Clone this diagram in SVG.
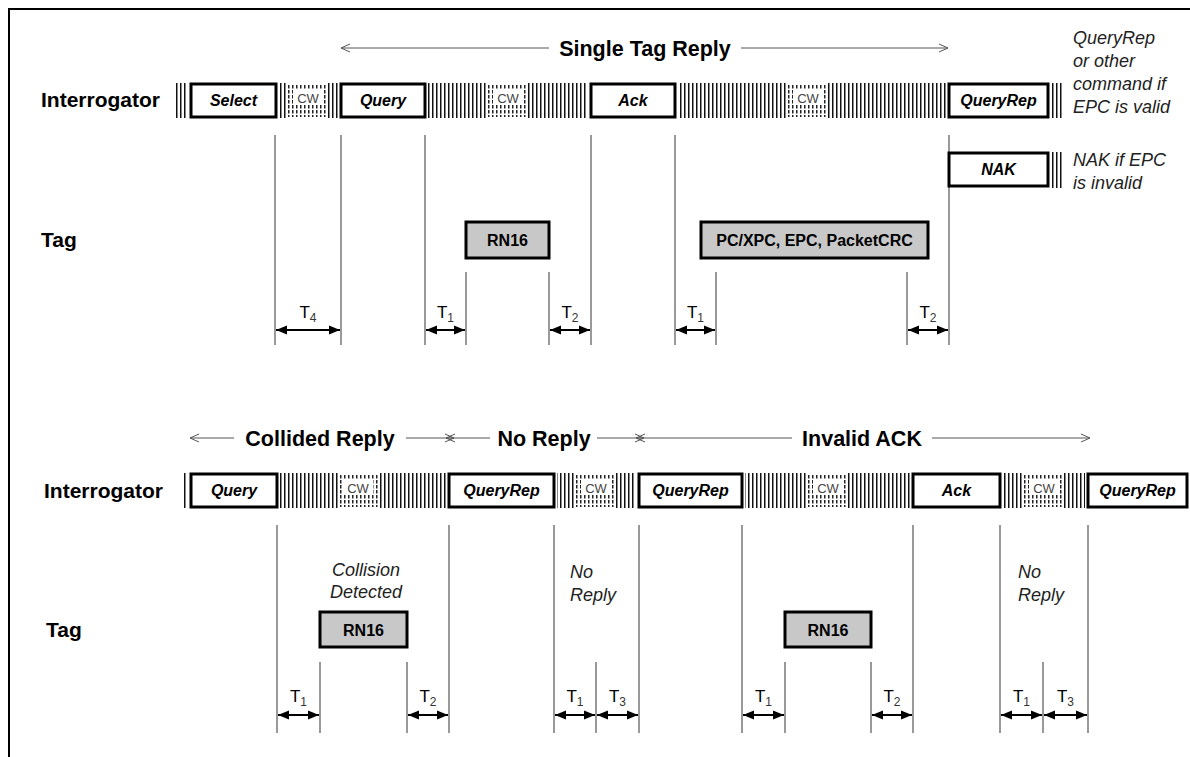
<svg xmlns="http://www.w3.org/2000/svg" width="1190" height="757" viewBox="0 0 1190 757">
<defs>
<style>
.lbl{font-family:"Liberation Sans",Arial,sans-serif;font-weight:bold;font-size:21px;fill:#000}
.hd{font-family:"Liberation Sans",Arial,sans-serif;font-weight:bold;font-size:21.5px;fill:#000;text-anchor:middle}
.cmd{fill:#fff;stroke:#000;stroke-width:3}
.cmdt{font-family:"Liberation Sans",Arial,sans-serif;font-weight:bold;font-style:italic;font-size:16px;fill:#000;text-anchor:middle}
.tag{fill:#c8c8c8;stroke:#000;stroke-width:3}
.tagt{font-family:"Liberation Sans",Arial,sans-serif;font-weight:bold;font-size:16px;fill:#000;text-anchor:middle}
.note{font-family:"Liberation Sans",Arial,sans-serif;font-style:italic;font-size:18px;fill:#222}
.cwt{font-family:"Liberation Sans",Arial,sans-serif;font-size:13px;fill:#444;text-anchor:middle}
.tt{font-family:"Liberation Sans",Arial,sans-serif;font-size:17px;fill:#000;text-anchor:middle}
.sub{font-size:12px;fill:#333}
.vl{stroke:#999;stroke-width:2;fill:none}
.ta{stroke:#000;stroke-width:2;fill:none;marker-start:url(#ah);marker-end:url(#ah)}
.ha{stroke:#555;stroke-width:1;fill:none}
.st{fill:url(#st)}
.cwz{fill:url(#cwp)}
.wh{fill:#fff}
</style>
<pattern id="st" patternUnits="userSpaceOnUse" width="4" height="20"><rect x="0" y="0" width="1.5" height="20" fill="#111"/></pattern>
<pattern id="cwp" patternUnits="userSpaceOnUse" width="4" height="5"><rect x="0" y="0" width="1.5" height="3.5" fill="#222"/></pattern>
<marker id="ah" markerUnits="userSpaceOnUse" markerWidth="11" markerHeight="10" refX="11" refY="5" orient="auto-start-reverse"><path d="M0,0.5 L11,5 L0,9.5 z" fill="#000"/></marker>
<marker id="ch" markerUnits="userSpaceOnUse" markerWidth="11" markerHeight="10" refX="10" refY="5" orient="auto-start-reverse"><path d="M1,1 L10,5 L1,9" fill="none" stroke="#555" stroke-width="1"/></marker>
</defs>
<rect width="1190" height="757" fill="#fff"/>
<path d="M9,757 V9 H1190" fill="none" stroke="#000" stroke-width="2"/>

<!-- stripe bands -->
<g id="bands">
<rect class="st" x="174" y="83" width="889" height="35"/>
<rect class="st" x="1052" y="152" width="11" height="36"/>
<rect class="st" x="183" y="473" width="905" height="35"/>
</g>

<!-- CW zones -->
<g id="cw-zones">
<g id="cw1"><rect class="wh" x="288" y="83" width="40" height="35"/><rect class="cwz" x="288" y="85" width="40" height="32"/><rect class="wh" x="293" y="90" width="30" height="15"/><text class="cwt" x="308" y="103">CW</text></g>
<g id="cw2"><rect class="wh" x="488" y="83" width="40" height="35"/><rect class="cwz" x="488" y="85" width="40" height="32"/><rect class="wh" x="493" y="90" width="30" height="15"/><text class="cwt" x="508" y="103">CW</text></g>
<g id="cw3"><rect class="wh" x="788" y="83" width="40" height="35"/><rect class="cwz" x="788" y="85" width="40" height="32"/><rect class="wh" x="793" y="90" width="30" height="15"/><text class="cwt" x="808" y="103">CW</text></g>
<g id="cw4"><rect class="wh" x="338" y="473" width="40" height="35"/><rect class="cwz" x="338" y="475" width="40" height="32"/><rect class="wh" x="343" y="480" width="30" height="15"/><text class="cwt" x="358" y="493">CW</text></g>
<g id="cw5"><rect class="wh" x="576" y="473" width="40" height="35"/><rect class="cwz" x="576" y="475" width="40" height="32"/><rect class="wh" x="581" y="480" width="30" height="15"/><text class="cwt" x="596" y="493">CW</text></g>
<g id="cw6"><rect class="wh" x="808" y="473" width="40" height="35"/><rect class="cwz" x="808" y="475" width="40" height="32"/><rect class="wh" x="813" y="480" width="30" height="15"/><text class="cwt" x="828" y="493">CW</text></g>
<g id="cw7"><rect class="wh" x="1024" y="473" width="40" height="35"/><rect class="cwz" x="1024" y="475" width="40" height="32"/><rect class="wh" x="1029" y="480" width="30" height="15"/><text class="cwt" x="1044" y="493">CW</text></g>
</g>

<!-- connectors -->
<g id="connectors">
<line class="vl" x1="275" y1="135" x2="275" y2="345"/>
<line class="vl" x1="341" y1="135" x2="341" y2="345"/>
<line class="vl" x1="425" y1="135" x2="425" y2="345"/>
<line class="vl" x1="591" y1="135" x2="591" y2="345"/>
<line class="vl" x1="675" y1="135" x2="675" y2="345"/>
<line class="vl" x1="949" y1="135" x2="949" y2="345"/>
<line class="vl" x1="466" y1="272" x2="466" y2="345"/>
<line class="vl" x1="549" y1="272" x2="549" y2="345"/>
<line class="vl" x1="716" y1="272" x2="716" y2="345"/>
<line class="vl" x1="907" y1="272" x2="907" y2="345"/>
<line class="vl" x1="277" y1="525" x2="277" y2="733"/>
<line class="vl" x1="449" y1="525" x2="449" y2="733"/>
<line class="vl" x1="554" y1="525" x2="554" y2="733"/>
<line class="vl" x1="639" y1="525" x2="639" y2="733"/>
<line class="vl" x1="742" y1="525" x2="742" y2="733"/>
<line class="vl" x1="913" y1="525" x2="913" y2="733"/>
<line class="vl" x1="1000" y1="525" x2="1000" y2="733"/>
<line class="vl" x1="1088" y1="525" x2="1088" y2="733"/>
<line class="vl" x1="320" y1="662" x2="320" y2="733"/>
<line class="vl" x1="407" y1="662" x2="407" y2="733"/>
<line class="vl" x1="596" y1="662" x2="596" y2="733"/>
<line class="vl" x1="785" y1="662" x2="785" y2="733"/>
<line class="vl" x1="871" y1="662" x2="871" y2="733"/>
<line class="vl" x1="1043" y1="662" x2="1043" y2="733"/>
<line class="ta" x1="276" y1="330" x2="340" y2="330"/>
<line class="ta" x1="426" y1="330" x2="465" y2="330"/>
<line class="ta" x1="550" y1="330" x2="590" y2="330"/>
<line class="ta" x1="676" y1="330" x2="715" y2="330"/>
<line class="ta" x1="908" y1="330" x2="948" y2="330"/>
<line class="ta" x1="278" y1="715" x2="319" y2="715"/>
<line class="ta" x1="408" y1="715" x2="448" y2="715"/>
<line class="ta" x1="555" y1="715" x2="595" y2="715"/>
<line class="ta" x1="597" y1="715" x2="638" y2="715"/>
<line class="ta" x1="743" y1="715" x2="784" y2="715"/>
<line class="ta" x1="872" y1="715" x2="912" y2="715"/>
<line class="ta" x1="1001" y1="715" x2="1042" y2="715"/>
<line class="ta" x1="1044" y1="715" x2="1087" y2="715"/>
<line class="ha" x1="549" y1="48" x2="341" y2="48" marker-end="url(#ch)"/>
<line class="ha" x1="741" y1="48" x2="948" y2="48" marker-end="url(#ch)"/>
<line class="ha" x1="234" y1="438" x2="190" y2="438" marker-end="url(#ch)"/>
<line class="ha" x1="406" y1="438" x2="454" y2="438" marker-end="url(#ch)"/>
<line class="ha" x1="490" y1="438" x2="446" y2="438" marker-end="url(#ch)"/>
<line class="ha" x1="597" y1="438" x2="644" y2="438" marker-end="url(#ch)"/>
<line class="ha" x1="792" y1="438" x2="636" y2="438" marker-end="url(#ch)"/>
<line class="ha" x1="932" y1="438" x2="1090" y2="438" marker-end="url(#ch)"/>
</g>

<g id="headings">
<text class="hd" x="645" y="56">Single Tag Reply</text>
<text class="hd" x="320" y="446">Collided Reply</text>
<text class="hd" x="544" y="446">No Reply</text>
<text class="hd" x="862" y="446">Invalid ACK</text>
</g>

<g id="row-labels">
<text class="lbl" x="41" y="107">Interrogator</text>
<text class="lbl" x="41" y="247">Tag</text>
<text class="lbl" x="44" y="498">Interrogator</text>
<text class="lbl" x="46" y="637">Tag</text>
</g>

<g id="cmd-select"><rect class="wh" x="188" y="82" width="91" height="37"/><rect class="cmd" x="191" y="84" width="85" height="33"/><text class="cmdt" x="233.5" y="106">Select</text></g>
<g id="cmd-query1"><rect class="wh" x="338" y="82" width="90" height="37"/><rect class="cmd" x="341" y="84" width="84" height="33"/><text class="cmdt" x="383" y="106">Query</text></g>
<g id="cmd-ack1"><rect class="wh" x="588" y="82" width="90" height="37"/><rect class="cmd" x="591" y="84" width="84" height="33"/><text class="cmdt" x="633" y="106">Ack</text></g>
<g id="cmd-queryrep1"><rect class="wh" x="946" y="82" width="105" height="37"/><rect class="cmd" x="949" y="84" width="99" height="33"/><text class="cmdt" x="998.5" y="106">QueryRep</text></g>
<g id="cmd-nak"><rect class="cmd" x="949" y="153" width="99" height="33"/><text class="cmdt" x="998.5" y="175">NAK</text></g>

<g id="tag-rn16-1"><rect class="tag" x="466" y="222" width="83" height="36"/><text class="tagt" x="507.5" y="246">RN16</text></g>
<g id="tag-epc"><rect class="tag" x="701" y="222" width="227" height="36"/><text class="tagt" x="814.5" y="246">PC/XPC, EPC, PacketCRC</text></g>

<g id="note-valid">
<text class="note" x="1073" y="44">QueryRep</text>
<text class="note" x="1073" y="67">or other</text>
<text class="note" x="1073" y="90">command if</text>
<text class="note" x="1073" y="113">EPC is valid</text>
</g>
<g id="note-invalid">
<text class="note" x="1073" y="166">NAK if EPC</text>
<text class="note" x="1073" y="189">is invalid</text>
</g>

<g id="timing-top">
<text class="tt" x="308" y="318">T<tspan class="sub" dy="4">4</tspan></text>
<text class="tt" x="445.5" y="318">T<tspan class="sub" dy="4">1</tspan></text>
<text class="tt" x="570" y="318">T<tspan class="sub" dy="4">2</tspan></text>
<text class="tt" x="695.5" y="318">T<tspan class="sub" dy="4">1</tspan></text>
<text class="tt" x="928" y="318">T<tspan class="sub" dy="4">2</tspan></text>
</g>

<g id="cmd-query2"><rect class="wh" x="188" y="472" width="92" height="37"/><rect class="cmd" x="191" y="474" width="86" height="33"/><text class="cmdt" x="234" y="496">Query</text></g>
<g id="cmd-queryrep2"><rect class="wh" x="446" y="472" width="111" height="37"/><rect class="cmd" x="449" y="474" width="105" height="33"/><text class="cmdt" x="501.5" y="496">QueryRep</text></g>
<g id="cmd-queryrep3"><rect class="wh" x="636" y="472" width="109" height="37"/><rect class="cmd" x="639" y="474" width="103" height="33"/><text class="cmdt" x="690.5" y="496">QueryRep</text></g>
<g id="cmd-ack2"><rect class="wh" x="910" y="472" width="93" height="37"/><rect class="cmd" x="913" y="474" width="87" height="33"/><text class="cmdt" x="956.5" y="496">Ack</text></g>
<g id="cmd-queryrep4"><rect class="wh" x="1085" y="472" width="105" height="37"/><rect class="cmd" x="1088" y="474" width="99" height="33"/><text class="cmdt" x="1137.5" y="496">QueryRep</text></g>

<g id="tag-rn16-2"><rect class="tag" x="320" y="612" width="87" height="35"/><text class="tagt" x="363.5" y="636">RN16</text></g>
<g id="tag-rn16-3"><rect class="tag" x="785" y="612" width="86" height="35"/><text class="tagt" x="828" y="636">RN16</text></g>

<g id="note-collision">
<text class="note" x="366" y="576" text-anchor="middle">Collision</text>
<text class="note" x="366" y="598" text-anchor="middle">Detected</text>
</g>
<g id="note-noreply1">
<text class="note" x="570" y="578">No</text>
<text class="note" x="570" y="601">Reply</text>
</g>
<g id="note-noreply2">
<text class="note" x="1018" y="578">No</text>
<text class="note" x="1018" y="601">Reply</text>
</g>

<g id="timing-bottom">
<text class="tt" x="298.5" y="702">T<tspan class="sub" dy="4">1</tspan></text>
<text class="tt" x="428" y="702">T<tspan class="sub" dy="4">2</tspan></text>
<text class="tt" x="575" y="702">T<tspan class="sub" dy="4">1</tspan></text>
<text class="tt" x="617.5" y="702">T<tspan class="sub" dy="4">3</tspan></text>
<text class="tt" x="763.5" y="702">T<tspan class="sub" dy="4">1</tspan></text>
<text class="tt" x="892" y="702">T<tspan class="sub" dy="4">2</tspan></text>
<text class="tt" x="1021.5" y="702">T<tspan class="sub" dy="4">1</tspan></text>
<text class="tt" x="1065.5" y="702">T<tspan class="sub" dy="4">3</tspan></text>
</g>
</svg>
